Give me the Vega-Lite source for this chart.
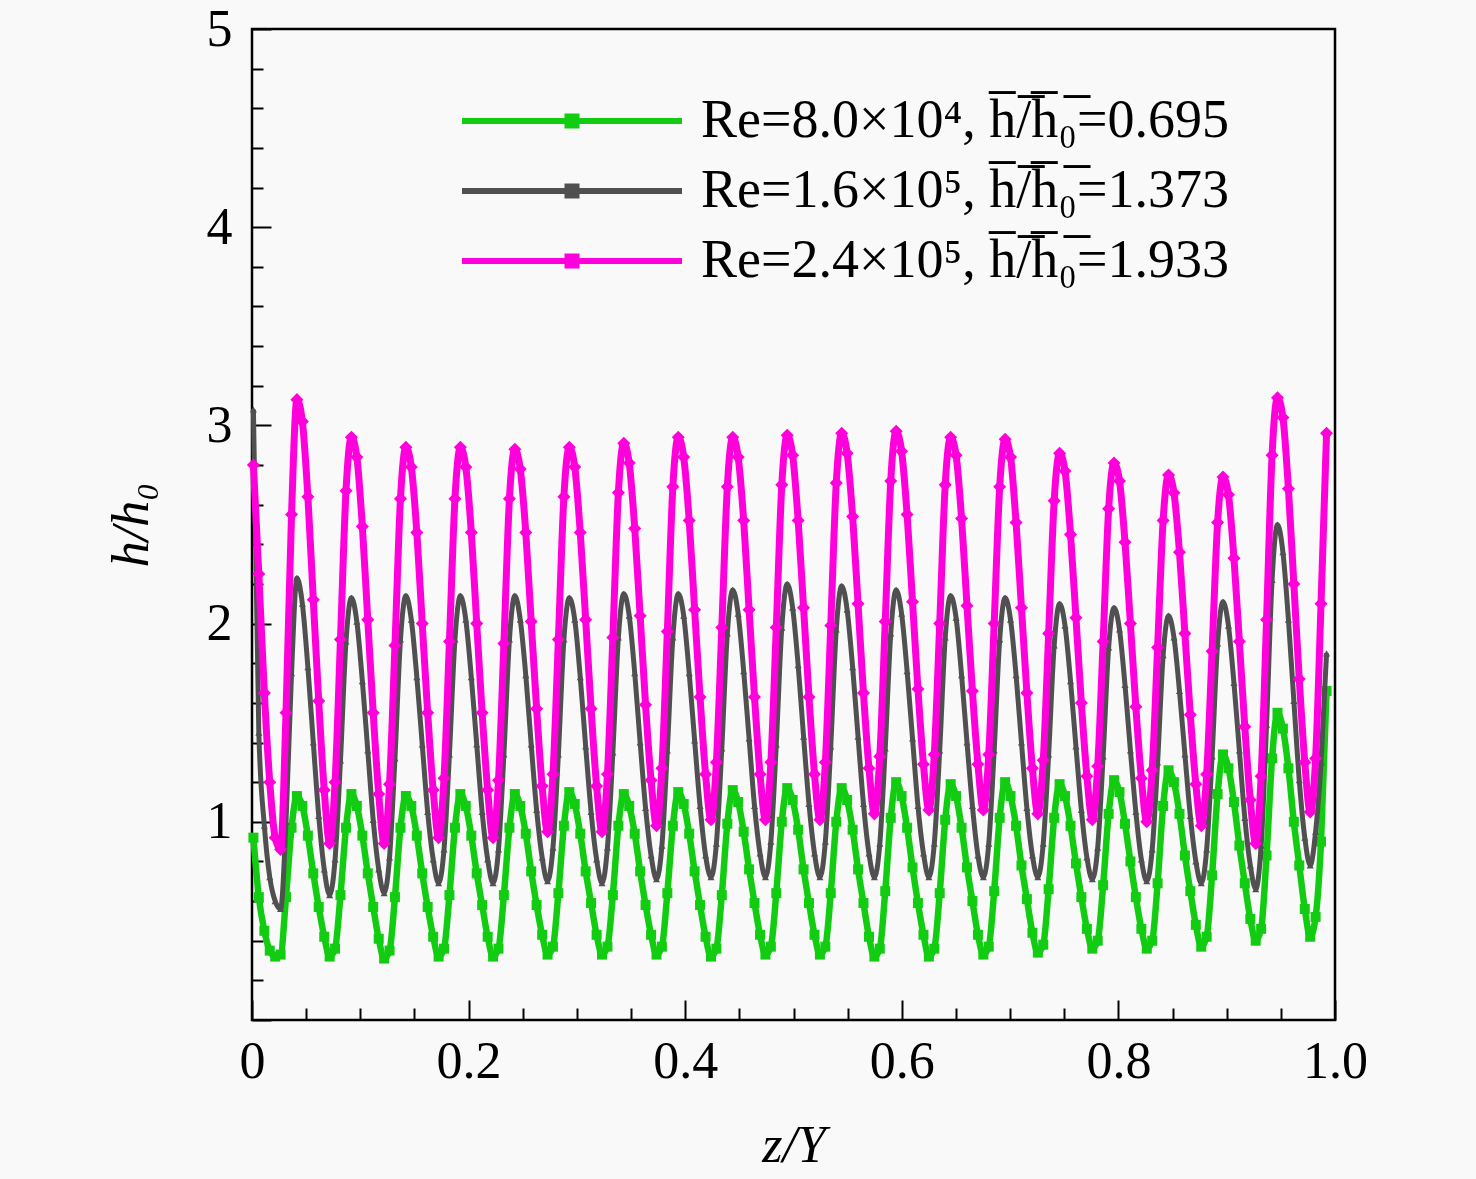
{
  "$schema": "https://vega.github.io/schema/vega-lite/v6.json",
  "autosize": {"type": "none"},
  "padding": {"left": 252, "top": 29, "right": 141, "bottom": 159},
  "width": 1083,
  "height": 991,
  "background": "#f9f9f9",
  "config": {
    "view": {"stroke": "#000000", "strokeWidth": 2.5},
    "font": "Liberation Serif"
  },
  "datasets": {
    "green": [
      {"x":0.0013,"y":0.92},{"x":0.0063,"y":0.62},{"x":0.0114,"y":0.45},{"x":0.0164,"y":0.35},
      {"x":0.0214,"y":0.32},{"x":0.0264,"y":0.33},{"x":0.0314,"y":0.62},{"x":0.0365,"y":0.97},{"x":0.0415,"y":1.13},{"x":0.0465,"y":1.08},{"x":0.0516,"y":0.93},{"x":0.0566,"y":0.74},{"x":0.0616,"y":0.57},{"x":0.0667,"y":0.42},
      {"x":0.0717,"y":0.32},{"x":0.0767,"y":0.36},{"x":0.0817,"y":0.63},{"x":0.0868,"y":0.97},{"x":0.0918,"y":1.14},{"x":0.0968,"y":1.08},{"x":0.1019,"y":0.93},{"x":0.1069,"y":0.74},{"x":0.1119,"y":0.57},{"x":0.1170,"y":0.41},
      {"x":0.1220,"y":0.31},{"x":0.1270,"y":0.35},{"x":0.1320,"y":0.62},{"x":0.1371,"y":0.97},{"x":0.1421,"y":1.13},{"x":0.1471,"y":1.08},{"x":0.1522,"y":0.93},{"x":0.1572,"y":0.74},{"x":0.1622,"y":0.57},{"x":0.1673,"y":0.42},
      {"x":0.1723,"y":0.32},{"x":0.1773,"y":0.36},{"x":0.1823,"y":0.63},{"x":0.1874,"y":0.97},{"x":0.1924,"y":1.14},{"x":0.1974,"y":1.08},{"x":0.2025,"y":0.93},{"x":0.2075,"y":0.74},{"x":0.2125,"y":0.58},{"x":0.2176,"y":0.42},
      {"x":0.2226,"y":0.32},{"x":0.2276,"y":0.36},{"x":0.2326,"y":0.63},{"x":0.2377,"y":0.97},{"x":0.2427,"y":1.14},{"x":0.2477,"y":1.08},{"x":0.2528,"y":0.94},{"x":0.2578,"y":0.75},{"x":0.2628,"y":0.58},{"x":0.2679,"y":0.43},
      {"x":0.2729,"y":0.33},{"x":0.2779,"y":0.37},{"x":0.2829,"y":0.64},{"x":0.2880,"y":0.98},{"x":0.2930,"y":1.15},{"x":0.2980,"y":1.09},{"x":0.3031,"y":0.94},{"x":0.3081,"y":0.75},{"x":0.3131,"y":0.59},{"x":0.3182,"y":0.43},
      {"x":0.3232,"y":0.33},{"x":0.3282,"y":0.37},{"x":0.3332,"y":0.63},{"x":0.3383,"y":0.98},{"x":0.3433,"y":1.14},{"x":0.3483,"y":1.08},{"x":0.3534,"y":0.94},{"x":0.3584,"y":0.75},{"x":0.3634,"y":0.58},{"x":0.3685,"y":0.43},
      {"x":0.3735,"y":0.33},{"x":0.3785,"y":0.37},{"x":0.3835,"y":0.64},{"x":0.3886,"y":0.98},{"x":0.3936,"y":1.15},{"x":0.3986,"y":1.09},{"x":0.4037,"y":0.94},{"x":0.4087,"y":0.75},{"x":0.4137,"y":0.58},{"x":0.4188,"y":0.42},
      {"x":0.4238,"y":0.32},{"x":0.4288,"y":0.36},{"x":0.4338,"y":0.63},{"x":0.4389,"y":0.99},{"x":0.4439,"y":1.16},{"x":0.4489,"y":1.10},{"x":0.4540,"y":0.95},{"x":0.4590,"y":0.76},{"x":0.4640,"y":0.59},{"x":0.4691,"y":0.43},
      {"x":0.4741,"y":0.33},{"x":0.4791,"y":0.37},{"x":0.4841,"y":0.64},{"x":0.4892,"y":1.00},{"x":0.4942,"y":1.17},{"x":0.4992,"y":1.11},{"x":0.5043,"y":0.96},{"x":0.5093,"y":0.76},{"x":0.5143,"y":0.59},{"x":0.5194,"y":0.43},
      {"x":0.5244,"y":0.33},{"x":0.5294,"y":0.37},{"x":0.5344,"y":0.64},{"x":0.5395,"y":1.00},{"x":0.5445,"y":1.17},{"x":0.5495,"y":1.11},{"x":0.5546,"y":0.96},{"x":0.5596,"y":0.76},{"x":0.5646,"y":0.59},{"x":0.5697,"y":0.42},
      {"x":0.5747,"y":0.32},{"x":0.5797,"y":0.36},{"x":0.5847,"y":0.65},{"x":0.5898,"y":1.02},{"x":0.5948,"y":1.20},{"x":0.5998,"y":1.13},{"x":0.6049,"y":0.97},{"x":0.6099,"y":0.77},{"x":0.6149,"y":0.59},{"x":0.6200,"y":0.43},
      {"x":0.6250,"y":0.32},{"x":0.6300,"y":0.36},{"x":0.6350,"y":0.64},{"x":0.6401,"y":1.01},{"x":0.6451,"y":1.19},{"x":0.6501,"y":1.13},{"x":0.6552,"y":0.97},{"x":0.6602,"y":0.77},{"x":0.6652,"y":0.60},{"x":0.6703,"y":0.43},
      {"x":0.6753,"y":0.33},{"x":0.6803,"y":0.37},{"x":0.6853,"y":0.65},{"x":0.6904,"y":1.02},{"x":0.6954,"y":1.20},{"x":0.7004,"y":1.13},{"x":0.7055,"y":0.98},{"x":0.7105,"y":0.78},{"x":0.7155,"y":0.61},{"x":0.7206,"y":0.44},
      {"x":0.7256,"y":0.34},{"x":0.7306,"y":0.38},{"x":0.7356,"y":0.66},{"x":0.7407,"y":1.02},{"x":0.7457,"y":1.19},{"x":0.7507,"y":1.13},{"x":0.7558,"y":0.98},{"x":0.7608,"y":0.79},{"x":0.7658,"y":0.62},{"x":0.7709,"y":0.46},
      {"x":0.7759,"y":0.36},{"x":0.7809,"y":0.40},{"x":0.7859,"y":0.68},{"x":0.7910,"y":1.04},{"x":0.7960,"y":1.21},{"x":0.8010,"y":1.15},{"x":0.8061,"y":0.99},{"x":0.8111,"y":0.80},{"x":0.8161,"y":0.62},{"x":0.8212,"y":0.46},
      {"x":0.8262,"y":0.36},{"x":0.8312,"y":0.40},{"x":0.8362,"y":0.69},{"x":0.8413,"y":1.08},{"x":0.8463,"y":1.26},{"x":0.8513,"y":1.20},{"x":0.8564,"y":1.04},{"x":0.8614,"y":0.83},{"x":0.8664,"y":0.65},{"x":0.8715,"y":0.48},
      {"x":0.8765,"y":0.37},{"x":0.8815,"y":0.42},{"x":0.8865,"y":0.73},{"x":0.8916,"y":1.14},{"x":0.8966,"y":1.34},{"x":0.9016,"y":1.27},{"x":0.9067,"y":1.10},{"x":0.9117,"y":0.88},{"x":0.9167,"y":0.69},{"x":0.9218,"y":0.51},
      {"x":0.9268,"y":0.40},{"x":0.9318,"y":0.46},{"x":0.9368,"y":0.83},{"x":0.9419,"y":1.32},{"x":0.9469,"y":1.55},{"x":0.9519,"y":1.47},{"x":0.9570,"y":1.27},{"x":0.9620,"y":1.00},{"x":0.9670,"y":0.78},{"x":0.9721,"y":0.56},
      {"x":0.9771,"y":0.42},{"x":0.9821,"y":0.52},{"x":0.9871,"y":0.90},{"x":0.9922,"y":1.66}
    ],
    "gray": [
      {"x":0.0013,"y":3.08},{"x":0.0063,"y":1.45},{"x":0.0114,"y":0.98},{"x":0.0164,"y":0.72},
      {"x":0.0214,"y":0.60},{"x":0.0264,"y":0.56},{"x":0.0314,"y":1.00},{"x":0.0365,"y":1.75},{"x":0.0415,"y":2.23},{"x":0.0465,"y":2.10},{"x":0.0516,"y":1.78},{"x":0.0566,"y":1.40},{"x":0.0616,"y":1.03},{"x":0.0667,"y":0.76},
      {"x":0.0717,"y":0.63},{"x":0.0767,"y":0.81},{"x":0.0817,"y":1.31},{"x":0.0868,"y":1.91},{"x":0.0918,"y":2.13},{"x":0.0968,"y":2.01},{"x":0.1019,"y":1.71},{"x":0.1069,"y":1.36},{"x":0.1119,"y":1.01},{"x":0.1170,"y":0.76},
      {"x":0.1220,"y":0.64},{"x":0.1270,"y":0.82},{"x":0.1320,"y":1.32},{"x":0.1371,"y":1.92},{"x":0.1421,"y":2.14},{"x":0.1471,"y":2.02},{"x":0.1522,"y":1.73},{"x":0.1572,"y":1.39},{"x":0.1622,"y":1.05},{"x":0.1673,"y":0.81},
      {"x":0.1723,"y":0.69},{"x":0.1773,"y":0.86},{"x":0.1823,"y":1.34},{"x":0.1874,"y":1.92},{"x":0.1924,"y":2.14},{"x":0.1974,"y":2.02},{"x":0.2025,"y":1.73},{"x":0.2075,"y":1.39},{"x":0.2125,"y":1.05},{"x":0.2176,"y":0.81},
      {"x":0.2226,"y":0.69},{"x":0.2276,"y":0.86},{"x":0.2326,"y":1.34},{"x":0.2377,"y":1.92},{"x":0.2427,"y":2.14},{"x":0.2477,"y":2.02},{"x":0.2528,"y":1.74},{"x":0.2578,"y":1.39},{"x":0.2628,"y":1.06},{"x":0.2679,"y":0.82},
      {"x":0.2729,"y":0.70},{"x":0.2779,"y":0.87},{"x":0.2829,"y":1.34},{"x":0.2880,"y":1.92},{"x":0.2930,"y":2.13},{"x":0.2980,"y":2.02},{"x":0.3031,"y":1.73},{"x":0.3081,"y":1.38},{"x":0.3131,"y":1.05},{"x":0.3182,"y":0.81},
      {"x":0.3232,"y":0.69},{"x":0.3282,"y":0.87},{"x":0.3332,"y":1.35},{"x":0.3383,"y":1.93},{"x":0.3433,"y":2.15},{"x":0.3483,"y":2.04},{"x":0.3534,"y":1.75},{"x":0.3584,"y":1.40},{"x":0.3634,"y":1.07},{"x":0.3685,"y":0.83},
      {"x":0.3735,"y":0.71},{"x":0.3785,"y":0.88},{"x":0.3835,"y":1.36},{"x":0.3886,"y":1.93},{"x":0.3936,"y":2.15},{"x":0.3986,"y":2.04},{"x":0.4037,"y":1.75},{"x":0.4087,"y":1.41},{"x":0.4137,"y":1.08},{"x":0.4188,"y":0.83},
      {"x":0.4238,"y":0.72},{"x":0.4288,"y":0.89},{"x":0.4338,"y":1.37},{"x":0.4389,"y":1.95},{"x":0.4439,"y":2.17},{"x":0.4489,"y":2.05},{"x":0.4540,"y":1.76},{"x":0.4590,"y":1.42},{"x":0.4640,"y":1.08},{"x":0.4691,"y":0.84},
      {"x":0.4741,"y":0.72},{"x":0.4791,"y":0.90},{"x":0.4841,"y":1.39},{"x":0.4892,"y":1.98},{"x":0.4942,"y":2.20},{"x":0.4992,"y":2.08},{"x":0.5043,"y":1.79},{"x":0.5093,"y":1.43},{"x":0.5143,"y":1.09},{"x":0.5194,"y":0.84},
      {"x":0.5244,"y":0.72},{"x":0.5294,"y":0.90},{"x":0.5344,"y":1.38},{"x":0.5395,"y":1.97},{"x":0.5445,"y":2.19},{"x":0.5495,"y":2.07},{"x":0.5546,"y":1.78},{"x":0.5596,"y":1.43},{"x":0.5646,"y":1.09},{"x":0.5697,"y":0.84},
      {"x":0.5747,"y":0.72},{"x":0.5797,"y":0.89},{"x":0.5847,"y":1.37},{"x":0.5898,"y":1.95},{"x":0.5948,"y":2.17},{"x":0.5998,"y":2.05},{"x":0.6049,"y":1.76},{"x":0.6099,"y":1.42},{"x":0.6149,"y":1.08},{"x":0.6200,"y":0.84},
      {"x":0.6250,"y":0.72},{"x":0.6300,"y":0.89},{"x":0.6350,"y":1.36},{"x":0.6401,"y":1.93},{"x":0.6451,"y":2.14},{"x":0.6501,"y":2.03},{"x":0.6552,"y":1.74},{"x":0.6602,"y":1.40},{"x":0.6652,"y":1.08},{"x":0.6703,"y":0.83},
      {"x":0.6753,"y":0.72},{"x":0.6803,"y":0.89},{"x":0.6853,"y":1.36},{"x":0.6904,"y":1.92},{"x":0.6954,"y":2.13},{"x":0.7004,"y":2.02},{"x":0.7055,"y":1.74},{"x":0.7105,"y":1.40},{"x":0.7155,"y":1.07},{"x":0.7206,"y":0.83},
      {"x":0.7256,"y":0.72},{"x":0.7306,"y":0.89},{"x":0.7356,"y":1.34},{"x":0.7407,"y":1.89},{"x":0.7457,"y":2.10},{"x":0.7507,"y":1.99},{"x":0.7558,"y":1.71},{"x":0.7608,"y":1.38},{"x":0.7658,"y":1.06},{"x":0.7709,"y":0.82},
      {"x":0.7759,"y":0.71},{"x":0.7809,"y":0.87},{"x":0.7859,"y":1.33},{"x":0.7910,"y":1.88},{"x":0.7960,"y":2.08},{"x":0.8010,"y":1.97},{"x":0.8061,"y":1.69},{"x":0.8111,"y":1.36},{"x":0.8161,"y":1.05},{"x":0.8212,"y":0.81},
      {"x":0.8262,"y":0.70},{"x":0.8312,"y":0.86},{"x":0.8362,"y":1.30},{"x":0.8413,"y":1.84},{"x":0.8463,"y":2.04},{"x":0.8513,"y":1.93},{"x":0.8564,"y":1.66},{"x":0.8614,"y":1.34},{"x":0.8664,"y":1.03},{"x":0.8715,"y":0.80},
      {"x":0.8765,"y":0.69},{"x":0.8815,"y":0.86},{"x":0.8865,"y":1.33},{"x":0.8916,"y":1.90},{"x":0.8966,"y":2.11},{"x":0.9016,"y":1.99},{"x":0.9067,"y":1.70},{"x":0.9117,"y":1.36},{"x":0.9167,"y":1.02},{"x":0.9218,"y":0.78},
      {"x":0.9268,"y":0.66},{"x":0.9318,"y":0.88},{"x":0.9368,"y":1.49},{"x":0.9419,"y":2.22},{"x":0.9469,"y":2.50},{"x":0.9519,"y":2.36},{"x":0.9570,"y":2.02},{"x":0.9620,"y":1.61},{"x":0.9670,"y":1.21},{"x":0.9721,"y":0.92},
      {"x":0.9771,"y":0.78},{"x":0.9821,"y":0.95},{"x":0.9871,"y":1.30},{"x":0.9922,"y":1.85}
    ],
    "magenta": [
      {"x":0.0013,"y":2.80},{"x":0.0063,"y":2.25},{"x":0.0114,"y":1.65},{"x":0.0164,"y":1.20},
      {"x":0.0214,"y":0.92},{"x":0.0264,"y":0.86},{"x":0.0314,"y":1.55},{"x":0.0365,"y":2.55},{"x":0.0415,"y":3.13},{"x":0.0465,"y":3.02},{"x":0.0516,"y":2.64},{"x":0.0566,"y":2.12},{"x":0.0616,"y":1.61},{"x":0.0667,"y":1.16},
      {"x":0.0717,"y":0.89},{"x":0.0767,"y":1.20},{"x":0.0817,"y":1.92},{"x":0.0868,"y":2.67},{"x":0.0918,"y":2.94},{"x":0.0968,"y":2.84},{"x":0.1019,"y":2.49},{"x":0.1069,"y":2.02},{"x":0.1119,"y":1.55},{"x":0.1170,"y":1.14},
      {"x":0.1220,"y":0.89},{"x":0.1270,"y":1.19},{"x":0.1320,"y":1.89},{"x":0.1371,"y":2.63},{"x":0.1421,"y":2.89},{"x":0.1471,"y":2.79},{"x":0.1522,"y":2.46},{"x":0.1572,"y":2.00},{"x":0.1622,"y":1.55},{"x":0.1673,"y":1.16},
      {"x":0.1723,"y":0.92},{"x":0.1773,"y":1.22},{"x":0.1823,"y":1.91},{"x":0.1874,"y":2.63},{"x":0.1924,"y":2.89},{"x":0.1974,"y":2.79},{"x":0.2025,"y":2.46},{"x":0.2075,"y":2.00},{"x":0.2125,"y":1.55},{"x":0.2176,"y":1.16},
      {"x":0.2226,"y":0.92},{"x":0.2276,"y":1.21},{"x":0.2326,"y":1.90},{"x":0.2377,"y":2.63},{"x":0.2427,"y":2.88},{"x":0.2477,"y":2.78},{"x":0.2528,"y":2.46},{"x":0.2578,"y":2.01},{"x":0.2628,"y":1.57},{"x":0.2679,"y":1.18},
      {"x":0.2729,"y":0.95},{"x":0.2779,"y":1.24},{"x":0.2829,"y":1.92},{"x":0.2880,"y":2.64},{"x":0.2930,"y":2.89},{"x":0.2980,"y":2.79},{"x":0.3031,"y":2.46},{"x":0.3081,"y":2.02},{"x":0.3131,"y":1.57},{"x":0.3182,"y":1.18},
      {"x":0.3232,"y":0.95},{"x":0.3282,"y":1.24},{"x":0.3332,"y":1.93},{"x":0.3383,"y":2.66},{"x":0.3433,"y":2.91},{"x":0.3483,"y":2.81},{"x":0.3534,"y":2.48},{"x":0.3584,"y":2.04},{"x":0.3634,"y":1.59},{"x":0.3685,"y":1.21},
      {"x":0.3735,"y":0.98},{"x":0.3785,"y":1.27},{"x":0.3835,"y":1.96},{"x":0.3886,"y":2.69},{"x":0.3936,"y":2.94},{"x":0.3986,"y":2.84},{"x":0.4037,"y":2.52},{"x":0.4087,"y":2.07},{"x":0.4137,"y":1.63},{"x":0.4188,"y":1.24},
      {"x":0.4238,"y":1.01},{"x":0.4288,"y":1.30},{"x":0.4338,"y":1.98},{"x":0.4389,"y":2.69},{"x":0.4439,"y":2.94},{"x":0.4489,"y":2.84},{"x":0.4540,"y":2.52},{"x":0.4590,"y":2.07},{"x":0.4640,"y":1.63},{"x":0.4691,"y":1.24},
      {"x":0.4741,"y":1.01},{"x":0.4791,"y":1.30},{"x":0.4841,"y":1.98},{"x":0.4892,"y":2.70},{"x":0.4942,"y":2.95},{"x":0.4992,"y":2.85},{"x":0.5043,"y":2.52},{"x":0.5093,"y":2.08},{"x":0.5143,"y":1.63},{"x":0.5194,"y":1.24},
      {"x":0.5244,"y":1.01},{"x":0.5294,"y":1.30},{"x":0.5344,"y":1.99},{"x":0.5395,"y":2.71},{"x":0.5445,"y":2.96},{"x":0.5495,"y":2.86},{"x":0.5546,"y":2.54},{"x":0.5596,"y":2.10},{"x":0.5646,"y":1.65},{"x":0.5697,"y":1.27},
      {"x":0.5747,"y":1.04},{"x":0.5797,"y":1.33},{"x":0.5847,"y":2.01},{"x":0.5898,"y":2.72},{"x":0.5948,"y":2.97},{"x":0.5998,"y":2.87},{"x":0.6049,"y":2.55},{"x":0.6099,"y":2.11},{"x":0.6149,"y":1.67},{"x":0.6200,"y":1.29},
      {"x":0.6250,"y":1.06},{"x":0.6300,"y":1.34},{"x":0.6350,"y":2.00},{"x":0.6401,"y":2.70},{"x":0.6451,"y":2.94},{"x":0.6501,"y":2.85},{"x":0.6552,"y":2.53},{"x":0.6602,"y":2.09},{"x":0.6652,"y":1.66},{"x":0.6703,"y":1.29},
      {"x":0.6753,"y":1.06},{"x":0.6803,"y":1.34},{"x":0.6853,"y":2.00},{"x":0.6904,"y":2.69},{"x":0.6954,"y":2.93},{"x":0.7004,"y":2.84},{"x":0.7055,"y":2.51},{"x":0.7105,"y":2.08},{"x":0.7155,"y":1.65},{"x":0.7206,"y":1.27},
      {"x":0.7256,"y":1.04},{"x":0.7306,"y":1.31},{"x":0.7356,"y":1.95},{"x":0.7407,"y":2.62},{"x":0.7457,"y":2.86},{"x":0.7507,"y":2.77},{"x":0.7558,"y":2.45},{"x":0.7608,"y":2.03},{"x":0.7658,"y":1.60},{"x":0.7709,"y":1.23},
      {"x":0.7759,"y":1.01},{"x":0.7809,"y":1.28},{"x":0.7859,"y":1.91},{"x":0.7910,"y":2.58},{"x":0.7960,"y":2.81},{"x":0.8010,"y":2.72},{"x":0.8061,"y":2.41},{"x":0.8111,"y":2.00},{"x":0.8161,"y":1.58},{"x":0.8212,"y":1.22},
      {"x":0.8262,"y":1.00},{"x":0.8312,"y":1.26},{"x":0.8362,"y":1.88},{"x":0.8413,"y":2.52},{"x":0.8463,"y":2.75},{"x":0.8513,"y":2.66},{"x":0.8564,"y":2.36},{"x":0.8614,"y":1.95},{"x":0.8664,"y":1.54},{"x":0.8715,"y":1.19},
      {"x":0.8765,"y":0.98},{"x":0.8815,"y":1.24},{"x":0.8865,"y":1.86},{"x":0.8916,"y":2.51},{"x":0.8966,"y":2.74},{"x":0.9016,"y":2.65},{"x":0.9067,"y":2.33},{"x":0.9117,"y":1.91},{"x":0.9167,"y":1.48},{"x":0.9218,"y":1.11},
      {"x":0.9268,"y":0.89},{"x":0.9318,"y":1.23},{"x":0.9368,"y":2.02},{"x":0.9419,"y":2.85},{"x":0.9469,"y":3.14},{"x":0.9519,"y":3.04},{"x":0.9570,"y":2.68},{"x":0.9620,"y":2.20},{"x":0.9670,"y":1.72},{"x":0.9721,"y":1.30},
      {"x":0.9771,"y":1.05},{"x":0.9821,"y":1.32},{"x":0.9871,"y":2.10},{"x":0.9922,"y":2.96}
    ]
  },
  "encoding": {
    "x": {
      "field": "x",
      "type": "quantitative",
      "scale": {"domain": [0, 1], "nice": false, "zero": false},
      "axis": {
        "values": [0, 0.05, 0.1, 0.15, 0.2, 0.25, 0.3, 0.35, 0.4, 0.45, 0.5, 0.55, 0.6, 0.65, 0.7, 0.75, 0.8, 0.85, 0.9, 0.95, 1],
        "labelExpr": "abs(datum.value * 5 - round(datum.value * 5)) < 0.001 ? (datum.value == 0 ? '0' : format(datum.value, '.1f')) : ''",
        "ticks": true,
        "tickSize": {"expr": "abs(datum.value * 5 - round(datum.value * 5)) < 0.001 ? -20 : -12"},
        "tickWidth": 2,
        "tickColor": "#000000",
        "domain": false,
        "grid": false,
        "labelFont": "Liberation Serif",
        "labelFontSize": 52,
        "labelColor": "#000000",
        "labelPadding": 36,
        "labelOverlap": false,
        "labelFlush": false,
        "labelBound": false,
        "title": "z/Y",
        "titleFont": "Liberation Serif",
        "titleFontSize": 52,
        "titleFontStyle": "italic",
        "titleFontWeight": "normal",
        "titleColor": "#000000",
        "titlePadding": 25
      }
    },
    "y": {
      "field": "y",
      "type": "quantitative",
      "scale": {"domain": [0, 5], "nice": false},
      "axis": {
        "values": [0, 0.2, 0.4, 0.6, 0.8, 1, 1.2, 1.4, 1.6, 1.8, 2, 2.2, 2.4, 2.6, 2.8, 3, 3.2, 3.4, 3.6, 3.8, 4, 4.2, 4.4, 4.6, 4.8, 5],
        "labelExpr": "abs(datum.value - round(datum.value)) < 0.001 && datum.value > 0 ? '' + round(datum.value) : ''",
        "ticks": true,
        "tickSize": {"expr": "abs(datum.value - round(datum.value)) < 0.001 ? -19 : -11"},
        "tickWidth": 2,
        "tickColor": "#000000",
        "domain": false,
        "grid": false,
        "labelFont": "Liberation Serif",
        "labelFontSize": 52,
        "labelColor": "#000000",
        "labelPadding": 39,
        "labelOverlap": false,
        "labelBound": false,
        "title": "h/h\u2080",
        "titleFont": "Liberation Serif",
        "titleFontSize": 52,
        "titleFontStyle": "italic",
        "titleFontWeight": "normal",
        "titleColor": "#000000",
        "titlePadding": 48
      }
    }
  },
  "layer": [
    {
      "data": {"name": "green"},
      "mark": {"type": "line", "interpolate": "monotone", "strokeWidth": 6.5},
      "encoding": {
        "color": {
          "datum": "Re=8.0\u00d710\u2074, h\u0305/\u0305h\u0305\u2080\u0305=0.695",
          "type": "nominal",
          "scale": {
            "domain": [
              "Re=8.0\u00d710\u2074, h\u0305/\u0305h\u0305\u2080\u0305=0.695",
              "Re=1.6\u00d710\u2075, h\u0305/\u0305h\u0305\u2080\u0305=1.373",
              "Re=2.4\u00d710\u2075, h\u0305/\u0305h\u0305\u2080\u0305=1.933"
            ],
            "range": ["#12cc12", "#505050", "#ff00dc"]
          },
          "legend": {
            "orient": "none",
            "legendX": 293,
            "legendY": 65,
            "title": null,
            "padding": 0,
            "symbolType": "M-11,0H11M-0.45,-0.45H0.45V0.45H-0.45Z",
            "symbolSize": 400,
            "symbolStrokeWidth": 6,
            "labelFont": "Liberation Serif",
            "labelFontSize": 54,
            "labelColor": "#000000",
            "labelLimit": 1000,
            "labelOffset": 102,
            "rowPadding": 16
          }
        }
      }
    },
    {
      "data": {"name": "green"},
      "mark": {"type": "point", "shape": "square", "size": 100, "filled": true, "opacity": 1},
      "encoding": {
        "color": {"datum": "Re=8.0\u00d710\u2074, h\u0305/\u0305h\u0305\u2080\u0305=0.695", "type": "nominal"}
      }
    },
    {
      "data": {"name": "gray"},
      "mark": {"type": "line", "interpolate": "monotone", "strokeWidth": 5},
      "encoding": {
        "color": {"datum": "Re=1.6\u00d710\u2075, h\u0305/\u0305h\u0305\u2080\u0305=1.373", "type": "nominal"}
      }
    },
    {
      "data": {"name": "gray"},
      "mark": {"type": "point", "shape": "triangle-up", "size": 50, "filled": true, "opacity": 1},
      "encoding": {
        "color": {"datum": "Re=1.6\u00d710\u2075, h\u0305/\u0305h\u0305\u2080\u0305=1.373", "type": "nominal"}
      }
    },
    {
      "data": {"name": "magenta"},
      "mark": {"type": "line", "interpolate": "monotone", "strokeWidth": 7},
      "encoding": {
        "color": {"datum": "Re=2.4\u00d710\u2075, h\u0305/\u0305h\u0305\u2080\u0305=1.933", "type": "nominal"}
      }
    },
    {
      "data": {"name": "magenta"},
      "mark": {"type": "point", "shape": "diamond", "size": 170, "filled": true, "opacity": 1},
      "encoding": {
        "color": {"datum": "Re=2.4\u00d710\u2075, h\u0305/\u0305h\u0305\u2080\u0305=1.933", "type": "nominal"}
      }
    }
  ]
}
